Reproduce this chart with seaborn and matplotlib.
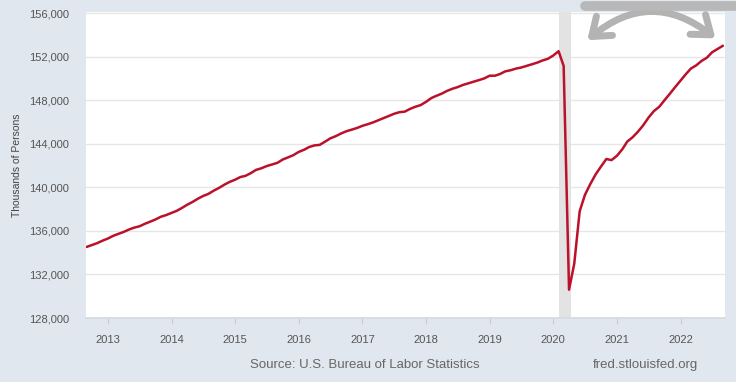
import numpy as np
import pandas as pd
import matplotlib
matplotlib.use("Agg")
import matplotlib.pyplot as plt
import seaborn as sns
from matplotlib.patches import FancyArrowPatch

# All employees, total nonfarm (thousands), monthly from Sep 2012
start_month = "2012-09-01"
payems_2012 = [134530, 134700, 134880, 135100]
payems_2013 = [135300, 135550, 135720, 135900, 136120, 136300, 136420, 136650, 136850, 137050, 137300, 137450]
payems_2014 = [137650, 137850, 138100, 138400, 138650, 138950, 139200, 139400, 139700, 139950, 140250, 140500]
payems_2015 = [140700, 140950, 141050, 141300, 141600, 141750, 141950, 142100, 142250, 142550, 142750, 142950]
payems_2016 = [143250, 143450, 143700, 143850, 143900, 144200, 144500, 144700, 144950, 145150, 145300, 145450]
payems_2017 = [145650, 145800, 145950, 146150, 146350, 146550, 146750, 146900, 146950, 147200, 147400, 147550]
payems_2018 = [147850, 148200, 148400, 148600, 148850, 149050, 149200, 149400, 149550, 149700, 149850, 150000]
payems_2019 = [150250, 150250, 150400, 150650, 150750, 150900, 151000, 151150, 151300, 151450, 151650, 151800]
payems_2020 = [152100, 152500, 151150, 130600, 133000, 137800, 139300, 140300, 141200, 141900, 142600, 142500]
payems_2021 = [142900, 143500, 144200, 144600, 145100, 145700, 146400, 147000, 147400, 148000, 148600, 149200]
payems_2022 = [149800, 150400, 150900, 151200, 151600, 151900, 152400, 152700, 153000]

recession = ("2020-02-01", "2020-04-15")
year_ticks = list(range(2013, 2023))
y_ticks = [128000, 132000, 136000, 140000, 144000, 148000, 152000, 156000]

values = (payems_2012 + payems_2013 + payems_2014 + payems_2015 + payems_2016 + payems_2017
          + payems_2018 + payems_2019 + payems_2020 + payems_2021 + payems_2022)
df = pd.DataFrame({
    "date": pd.date_range(start_month, periods=len(values), freq="MS"),
    "value": values,
})

sns.set_theme(style="white")
plt.rcParams["font.family"] = ["Liberation Sans", "DejaVu Sans"]

bg = "#e0e7ee"
fig = plt.figure(figsize=(7.36, 3.82), dpi=100, facecolor=bg)
ax = fig.add_axes([0.1168, 0.1675, 0.8682, 0.8011])
ax.set_facecolor("white")

ax.axvspan(pd.Timestamp(recession[0]), pd.Timestamp(recession[1]), color="#e3e3e3", lw=0, zorder=1)
sns.lineplot(data=df, x="date", y="value", ax=ax, color="#bb112b", lw=1.8, zorder=3)

ax.set_xlim(pd.Timestamp("2012-08-28"), pd.Timestamp("2022-09-13"))
ax.set_ylim(128000, 156100)
ax.set_yticks(y_ticks)
ax.set_yticklabels([f"{v:,}" for v in y_ticks])
ax.set_xticks([pd.Timestamp(f"{y}-01-01") for y in year_ticks])
ax.set_xticklabels([str(y) for y in year_ticks])
ax.yaxis.grid(True, color="#e6e6e6", lw=1)
ax.set_axisbelow(True)
for s in ["top", "right", "left"]:
    ax.spines[s].set_visible(False)
ax.spines["bottom"].set_color("#d6dbe0")
ax.tick_params(axis="y", length=0, labelsize=8, labelcolor="#555555", pad=12)
ax.tick_params(axis="x", length=4, width=0.8, color="#c8cdd3", bottom=True,
               labelsize=8, labelcolor="#555555", pad=8)
ax.set_xlabel("")
ax.set_ylabel("Thousands of Persons", fontsize=7.5, color="#444444", labelpad=5)

fig.text(0.495, 0.045, "Source: U.S. Bureau of Labor Statistics", ha="center", va="center",
         fontsize=9.5, color="#666666")
fig.text(0.877, 0.045, "fred.stlouisfed.org", ha="center", va="center",
         fontsize=9.5, color="#666666")

# hand-drawn gray arrow over the recovery
fig.add_artist(plt.Line2D([0.795, 1.0], [0.985, 0.985], transform=fig.transFigure,
                          color="#b8b8b8", lw=7, solid_capstyle="round"))
arrow = FancyArrowPatch((0.795, 0.89), (0.975, 0.895), transform=fig.transFigure,
                        connectionstyle="arc3,rad=-0.42",
                        arrowstyle="<->,head_length=0.6,head_width=0.45",
                        mutation_scale=20, color="#b3b3b3", lw=5,
                        capstyle="round", joinstyle="round")
fig.add_artist(arrow)

fig.savefig("out.png", dpi=100, facecolor=bg)
